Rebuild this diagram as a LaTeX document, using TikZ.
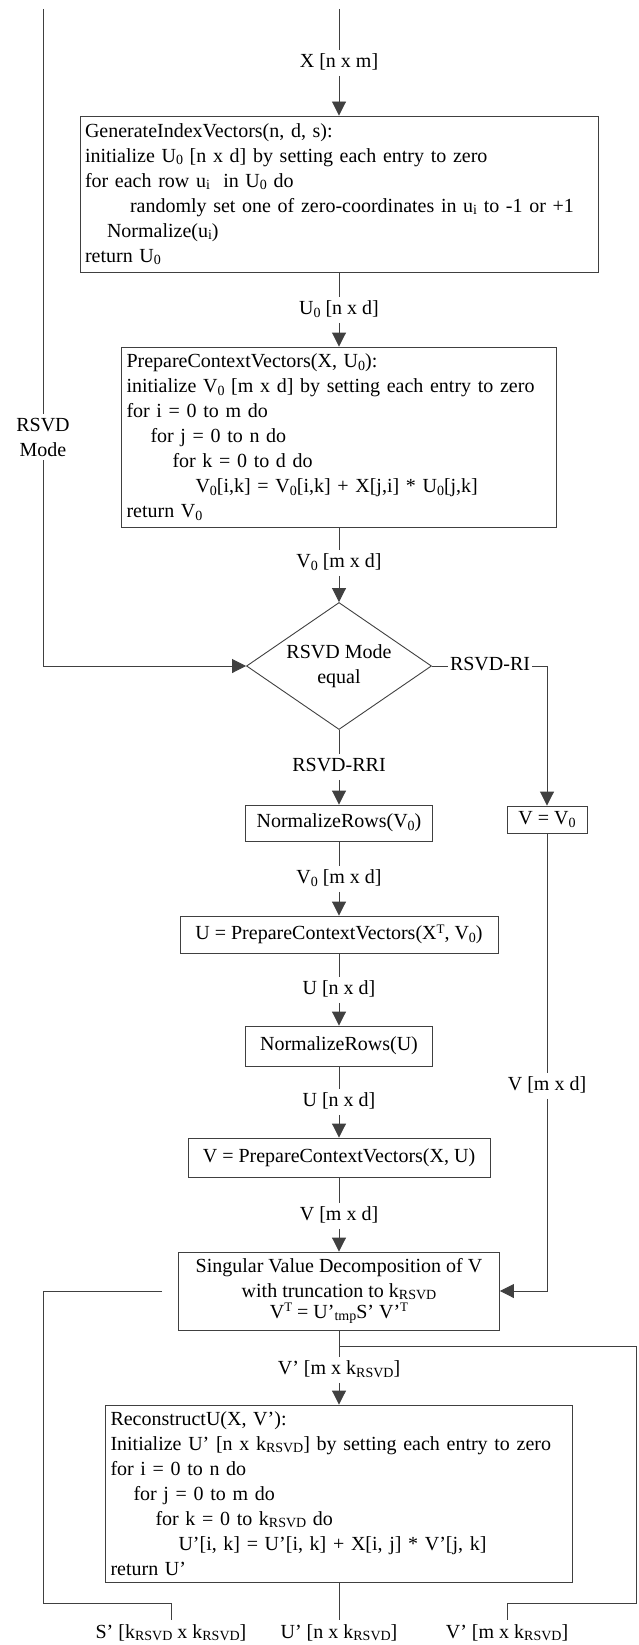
\documentclass[tikz,border=0pt]{standalone}
\usepackage{fontspec}
\setmainfont{Liberation Serif}
\usetikzlibrary{arrows.meta,shapes.geometric}
\newcommand{\lo}[1]{\raisebox{-2.5pt}{\fontsize{14pt}{14pt}\selectfont #1}}
\newcommand{\hi}[1]{\raisebox{6.5pt}{\fontsize{13pt}{13pt}\selectfont #1}}
\tikzset{
  ln/.style={draw=black!75, line width=0.9pt},
  arr/.style={ln, -{Triangle[length=14pt,width=14pt]}},
  lbl/.style={inner xsep=2pt, inner ysep=3.5pt, text height=14pt, text depth=4.5pt},
  pbox/.style={draw=black!75, line width=0.9pt, align=left, inner xsep=5pt, inner ysep=0pt},
  sbox/.style={draw=black!75, line width=0.9pt, inner sep=0pt, align=center},
}
\begin{document}
\begin{tikzpicture}[x=1pt,y=-1pt,font=\fontsize{20pt}{25pt}\selectfont]
\useasboundingbox (0,0) rectangle (639,1645);

% coordinates
\coordinate (topC) at (339,9);
\coordinate (topL) at (43,9);
\coordinate (sl) at (162,1291);
\coordinate (bl) at (43,1603);
\coordinate (j) at (339,1346);
\coordinate (br) at (636,1603);

% boxes
\node[pbox, text width=508pt, minimum height=156pt] (b1) at (339,194) {GenerateIndexVectors(n, d, s):\\
initialize U\lo{0} [n x d] by setting each entry to zero\\
for each row u\lo{i}\ \ in U\lo{0} do\\
\hspace*{45pt}randomly set one of zero-coordinates in u\lo{i} to -1 or +1\\
\hspace*{22pt}Normalize(u\lo{i})\\
return U\lo{0}};

\node[pbox, text width=425pt, minimum height=180pt] (b2) at (339,437) {PrepareContextVectors(X, U\lo{0}):\\
initialize V\lo{0} [m x d] by setting each entry to zero\\
for i = 0 to m do\\
\hspace*{24pt}for j = 0 to n do\\
\hspace*{46pt}for k = 0 to d do\\
\hspace*{69pt}V\lo{0}[i,k] = V\lo{0}[i,k] + X[j,i] * U\lo{0}[j,k]\\
return V\lo{0}};

\node[diamond, draw=black!75, line width=0.9pt, inner sep=0pt, aspect=1.46,
      minimum width=185pt, minimum height=127pt, align=center] (dia) at (339,666) {RSVD Mode\\equal};

\node[sbox, minimum width=187pt, minimum height=36pt] (nr1) at (339,823) {NormalizeRows(V\lo{0})};
\node[sbox, minimum width=80pt, minimum height=27pt] (vv0) at (547,819.5) {V = V\lo{0}};
\node[sbox, minimum width=318pt, minimum height=37pt] (upcv) at (339,934.5) {U = PrepareContextVectors(X\hi{T}, V\lo{0})};
\node[sbox, minimum width=187pt, minimum height=40pt] (nr2) at (339,1046) {NormalizeRows(U)};
\node[sbox, minimum width=302pt, minimum height=39pt] (vpcv) at (339,1157.5) {V = PrepareContextVectors(X, U)};
\node[sbox, minimum width=321pt, minimum height=78pt] (svd) at (339,1291) {Singular Value Decomposition of V\\
with truncation to k\lo{RSVD}\\[-4pt]
V\hi{T} = U’\lo{tmp}S’ V’\hi{T}};

\node[pbox, text width=457pt, minimum height=177pt] (rec) at (339,1493.5) {ReconstructU(X, V’):\\
Initialize U’ [n x k\lo{RSVD}] by setting each entry to zero\\
for i = 0 to n do\\
\hspace*{23pt}for j = 0 to m do\\
\hspace*{45pt}for k = 0 to k\lo{RSVD} do\\
\hspace*{68pt}U’[i, k] = U’[i, k] + X[i, j] * V’[j, k]\\
return U’};

% labels
\node[lbl] (lX) at (339,63) {X [n x m]};
\node[lbl] (lU0) at (339,310) {U\lo{0} [n x d]};
\node[lbl] (lV0) at (339,563) {V\lo{0} [m x d]};
\node[lbl] (lRRI) at (339,767) {RSVD-RRI};
\node[lbl] (lV0b) at (339,879) {V\lo{0} [m x d]};
\node[lbl] (lU) at (339,990) {U [n x d]};
\node[lbl] (lUb) at (339,1102) {U [n x d]};
\node[lbl] (lV) at (339,1216) {V [m x d]};
\node[lbl] (lVp) at (339,1370) {V’ [m x k\lo{RSVD}]};
\node[lbl] (lRI) at (490,666) {RSVD-RI};
\node[lbl] (lVR) at (547,1086) {V [m x d]};
\node[inner xsep=2pt, inner ysep=4pt, align=center] (lRSVD) at (43,437) {RSVD\\Mode};
\node[lbl, anchor=base] (lS) at (171,1638) {S’ [k\lo{RSVD} x k\lo{RSVD}]};
\node[lbl, anchor=base] (lUp) at (339,1638) {U’ [n x k\lo{RSVD}]};
\node[lbl, anchor=base] (lVpo) at (507,1638) {V’ [m x k\lo{RSVD}]};

% connectors
\draw[ln] (topC) -- (lX);
\draw[arr] (lX) -- (b1);
\draw[ln] (b1) -- (lU0);
\draw[arr] (lU0) -- (b2);
\draw[ln] (b2) -- (lV0);
\draw[arr] (lV0) -- (dia);
\draw[ln] (topL) -- (lRSVD);
\draw[arr] (lRSVD) |- (dia);
\draw[ln] (dia) -- (lRI);
\draw[arr] (lRI) -| (vv0);
\draw[ln] (dia) -- (lRRI);
\draw[arr] (lRRI) -- (nr1);
\draw[ln] (nr1) -- (lV0b);
\draw[arr] (lV0b) -- (upcv);
\draw[ln] (upcv) -- (lU);
\draw[arr] (lU) -- (nr2);
\draw[ln] (nr2) -- (lUb);
\draw[arr] (lUb) -- (vpcv);
\draw[ln] (vpcv) -- (lV);
\draw[arr] (lV) -- (svd);
\draw[ln] (vv0) -- (lVR);
\draw[arr] (lVR) |- (svd);
\draw[ln] (svd) -- (lVp);
\draw[arr] (lVp) -- (rec);
\draw[ln] (rec) -- (lUp);
\draw[ln] (sl) -| (bl) -| (lS);
\draw[ln] (j) -| (br) -| (lVpo);
\end{tikzpicture}
\end{document}
